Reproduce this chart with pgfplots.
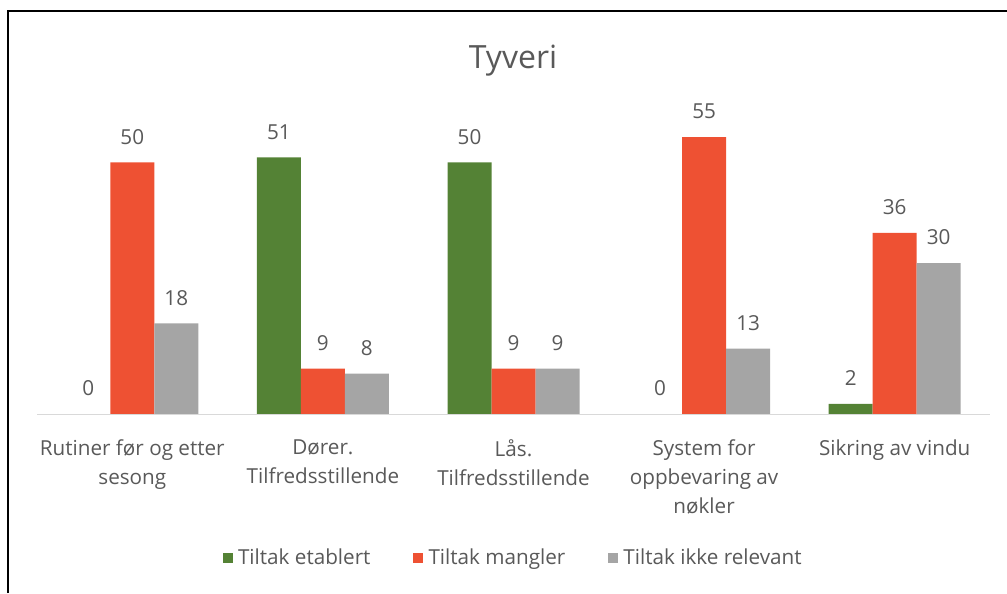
\documentclass[border=0pt]{standalone}
\usepackage{pgfplots}
\pgfplotsset{compat=1.18}
\usepackage{fontspec}
\setmainfont{Open Sans}
\definecolor{cgreen}{HTML}{548235}
\definecolor{corange}{HTML}{EE5133}
\definecolor{cgray}{HTML}{A5A5A5}
\definecolor{ctext}{HTML}{595959}
\definecolor{caxis}{HTML}{D9D9D9}
\begin{document}
\begin{tikzpicture}
\path[use as bounding box] (0pt,0pt) rectangle (755.25pt,444.75pt);
\draw[line width=2.2pt,black] (6pt,0pt) -- (6pt,436.5pt) -- (755.25pt,436.5pt);
\begin{axis}[
  at={(27.75pt,134.25pt)}, anchor=south west,
  scale only axis, width=714.75pt, height=226.5pt,
  xmin=-0.5, xmax=4.5, ymin=0, ymax=60,
  ybar=0pt, bar width=33pt,
  axis line style={draw=none},
  axis x line*=bottom,
  axis y line=none,
  xtick={0,1,2,3,4},
  xticklabels={{Rutiner før og etter\\sesong},{Dører.\\Tilfredsstillende},{Lås.\\Tilfredsstillende},{System for\\oppbevaring av\\nøkler},{Sikring av vindu}},
  xticklabel style={align=center, font=\fontsize{15.5}{21.75}\selectfont, text=ctext, anchor=north, yshift=-15.5pt},
  major tick length=0pt,
  nodes near coords,
  /pgf/number format/assume math mode=true,
  every node near coord/.append style={font=\fontsize{15.5}{18}\selectfont, text=ctext, yshift=10pt},
  legend columns=3,
  legend style={draw=none, at={(0.5,-0.477)}, anchor=center, font=\fontsize{15.5}{18}\selectfont, text=ctext,
    /tikz/every even column/.append style={column sep=30pt},
    /tikz/every odd column/.append style={column sep=2pt}},
  legend image code/.code={\path[#1,draw=none] (0pt,-3.75pt) rectangle (7.5pt,3.75pt);},
  clip=false,
]
\addplot[fill=cgreen, draw=none] coordinates {(0,0) (1,51) (2,50) (3,0) (4,2)};
\addplot[fill=corange, draw=none] coordinates {(0,50) (1,9) (2,9) (3,55) (4,36)};
\addplot[fill=cgray, draw=none] coordinates {(0,18) (1,8) (2,9) (3,13) (4,30)};
\legend{Tiltak etablert, Tiltak mangler, Tiltak ikke relevant}
\draw[caxis, line width=0.75pt] (axis cs:-0.5,0) -- (axis cs:4.5,0);
\end{axis}
\node[font=\fontsize{24}{26}\selectfont, text=ctext] at (384.75pt,399pt) {Tyveri};
\end{tikzpicture}
\end{document}
